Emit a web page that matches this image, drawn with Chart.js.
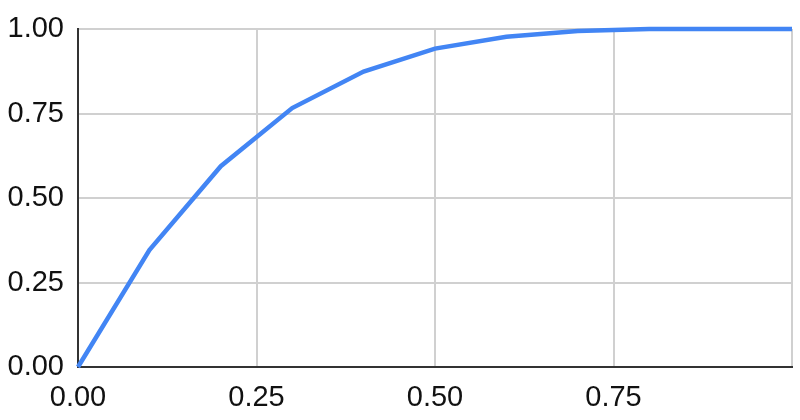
<!DOCTYPE html>
<html>
<head>
<meta charset="utf-8">
<script src="https://cdn.jsdelivr.net/npm/chart.js@4"></script>
<style>
  html, body { margin: 0; padding: 0; background: #fff; }
  #wrap { width: 800px; height: 420px; }
</style>
</head>
<body>
<div id="wrap"><canvas id="curve" width="800" height="420"></canvas></div>
<script>
// --- data ---
const xValues = [0, 0.1, 0.2, 0.3, 0.4, 0.5, 0.6, 0.7, 0.8, 0.9, 1.0];
const yValues = [0, 0.346, 0.594, 0.766, 0.874, 0.942, 0.977, 0.994, 1.0, 1.0, 1.0];
const xTickLabels = ["0.00", "0.25", "0.50", "0.75", ""];
const yTickLabels = ["0.00", "0.25", "0.50", "0.75", "1.00"];

const points = xValues.map((x, i) => ({ x: x, y: yValues[i] }));

const tickFont = { family: "'Liberation Sans', Arial, sans-serif", size: 29 };

// fixed axis sizes, no extra room for overhanging labels
function fitX(scale) {
    scale.height = 53;
    scale.paddingLeft = 0;
    scale.paddingRight = 0;
}
function fitY(scale) {
    scale.width = 78;
    scale.paddingTop = 0;
    scale.paddingBottom = 0;
}

const ctx = document.getElementById("curve").getContext("2d");

new Chart(ctx, {
    type: "line",
    data: {
        datasets: [
            {
                data: points,
                borderColor: "#4285f4",
                borderWidth: 4.5,
                pointRadius: 0,
                tension: 0,
                fill: false,
                clip: 4,
            },
        ],
    },
    options: {
        responsive: false,
        animation: false,
        layout: { padding: { top: 29, right: 8, left: 0, bottom: 0 } },
        scales: {
            x: {
                type: "linear",
                min: 0,
                max: 1,
                afterFit: fitX,
                ticks: {
                    stepSize: 0.25,
                    padding: 14,
                    maxRotation: 0,
                    color: "#111",
                    font: tickFont,
                    callback: (v) => xTickLabels[Math.round(v / 0.25)],
                },
                grid: { color: "#d0d0d0", lineWidth: 2, drawTicks: false },
                border: { color: "#333", width: 2 },
            },
            y: {
                min: 0,
                max: 1,
                afterFit: fitY,
                ticks: {
                    stepSize: 0.25,
                    padding: 14,
                    color: "#111",
                    font: tickFont,
                    callback: (v) => yTickLabels[Math.round(v / 0.25)],
                },
                grid: { color: "#d0d0d0", lineWidth: 2, drawTicks: false },
                border: { color: "#333", width: 2 },
            },
        },
        plugins: {
            legend: { display: false },
            tooltip: { enabled: false },
        },
    },
});
</script>
</body>
</html>
